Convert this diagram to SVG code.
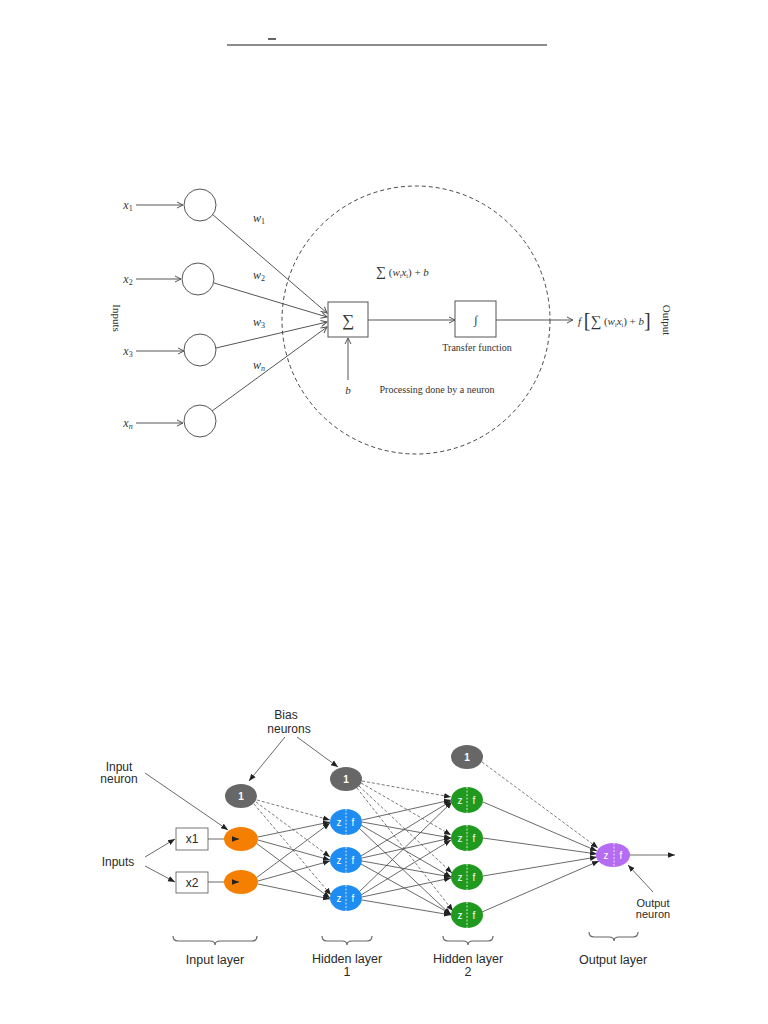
<svg xmlns="http://www.w3.org/2000/svg" width="768" height="1024" viewBox="0 0 768 1024">
<style>
.serif{font-family:"Liberation Serif","DejaVu Serif",serif;fill:#333}
.it{font-style:italic}
.sans{font-family:"Liberation Sans",Arial,sans-serif;fill:#2a2a2a}
.tl{stroke:#555;stroke-width:1;fill:none}
.cn{stroke:#444;stroke-width:0.8;fill:none}
.dash{stroke:#555;stroke-width:0.8;fill:none;stroke-dasharray:3,2}
.zf{font-family:"Liberation Sans",Arial,sans-serif;fill:#fff;font-size:10px;text-anchor:middle}
.sep{stroke:#fff;stroke-width:0.8;stroke-dasharray:2,1.5}
.brace{stroke:#666;stroke-width:1.2;fill:none}
</style>
<defs>
<marker id="oa" markerWidth="8" markerHeight="8" refX="7" refY="4" orient="auto" markerUnits="userSpaceOnUse">
<path d="M1,1 L7,4 L1,7" fill="none" stroke="#555" stroke-width="1"/>
</marker>
<marker id="fa" markerWidth="8" markerHeight="8" refX="7" refY="4" orient="auto" markerUnits="userSpaceOnUse">
<path d="M0,1.2 L7,4 L0,6.8 Z" fill="#222"/>
</marker>
</defs>
<rect width="768" height="1024" fill="#fff"/>

<!-- header line -->
<g id="header">
<line x1="227" y1="45" x2="547" y2="45" stroke="#666" stroke-width="1.5"/>
<line x1="268" y1="39" x2="276" y2="39" stroke="#333" stroke-width="1.5"/>
</g>

<!-- ===== Top diagram ===== -->
<g id="top-connectors">
<line class="tl" x1="136" y1="205" x2="183" y2="205" marker-end="url(#oa)"/>
<line class="tl" x1="136" y1="279" x2="181" y2="279" marker-end="url(#oa)"/>
<line class="tl" x1="136" y1="351" x2="184" y2="351" marker-end="url(#oa)"/>
<line class="tl" x1="136" y1="423" x2="183" y2="423" marker-end="url(#oa)"/>
<line class="tl" x1="212" y1="214" x2="327" y2="313" marker-end="url(#oa)"/>
<line class="tl" x1="214" y1="283" x2="327" y2="317" marker-end="url(#oa)"/>
<line class="tl" x1="216" y1="348" x2="327" y2="322" marker-end="url(#oa)"/>
<line class="tl" x1="212" y1="411" x2="327" y2="327" marker-end="url(#oa)"/>
<line class="tl" x1="348" y1="380" x2="348" y2="338" marker-end="url(#oa)"/>
<line class="tl" x1="368" y1="320" x2="455" y2="320" marker-end="url(#oa)"/>
<line class="tl" x1="496" y1="320" x2="573" y2="320" marker-end="url(#oa)"/>
</g>
<g id="neuron-boundary">
<circle cx="416" cy="320" r="134" fill="none" stroke="#444" stroke-width="1" stroke-dasharray="4,3"/>
</g>
<g id="in1"><circle cx="200" cy="205" r="16" fill="#fff" stroke="#555"/><text class="serif it" x="128" y="209" font-size="12" text-anchor="middle">x<tspan font-size="8" dy="2" font-style="normal">1</tspan></text></g>
<g id="in2"><circle cx="198" cy="279" r="16" fill="#fff" stroke="#555"/><text class="serif it" x="128" y="283" font-size="12" text-anchor="middle">x<tspan font-size="8" dy="2" font-style="normal">2</tspan></text></g>
<g id="in3"><circle cx="200" cy="350" r="16" fill="#fff" stroke="#555"/><text class="serif it" x="128" y="355" font-size="12" text-anchor="middle">x<tspan font-size="8" dy="2" font-style="normal">3</tspan></text></g>
<g id="inn"><circle cx="200" cy="421" r="16" fill="#fff" stroke="#555"/><text class="serif it" x="128" y="427" font-size="12" text-anchor="middle">x<tspan font-size="8" dy="2">n</tspan></text></g>
<g id="weights">
<text class="serif it" x="253" y="222" font-size="12">w<tspan font-size="8" dy="2" font-style="normal">1</tspan></text>
<text class="serif it" x="253" y="279" font-size="12">w<tspan font-size="8" dy="2" font-style="normal">2</tspan></text>
<text class="serif it" x="253" y="326" font-size="12">w<tspan font-size="8" dy="2" font-style="normal">3</tspan></text>
<text class="serif it" x="253" y="369" font-size="12">w<tspan font-size="8" dy="2">n</tspan></text>
</g>
<g id="inputs-label"><text class="serif" x="113" y="318" font-size="11" text-anchor="middle" transform="rotate(90 113 318)">Inputs</text></g>
<g id="sum">
<rect x="328" y="302" width="40" height="35" fill="#fff" stroke="#555"/>
<text class="serif" x="348" y="326" font-size="17" text-anchor="middle">∑</text>
</g>
<g id="bias"><text class="serif it" x="348" y="394" font-size="11" text-anchor="middle">b</text></g>
<g id="sum-label"><text class="serif" x="376" y="276" font-size="11"><tspan font-size="14">∑</tspan> (<tspan font-style="italic">w</tspan><tspan font-size="6" dy="2">i</tspan><tspan font-style="italic" dy="-2">x</tspan><tspan font-size="6" dy="2">i</tspan><tspan dy="-2">) + </tspan><tspan font-style="italic">b</tspan></text></g>
<g id="transfer">
<rect x="455" y="301" width="41" height="36" fill="#fff" stroke="#555"/>
<text class="serif it" x="476" y="324" font-size="12" text-anchor="middle">∫</text>
<text class="serif" x="477" y="351" font-size="10" text-anchor="middle">Transfer function</text>
</g>
<g id="processing"><text class="serif" x="437" y="393" font-size="10" text-anchor="middle">Processing done by a neuron</text></g>
<g id="output-formula">
<text class="serif" x="578" y="325" font-size="11"><tspan font-style="italic">f</tspan> <tspan font-size="20" dy="2">[</tspan><tspan font-size="15" dy="-1">∑</tspan><tspan dy="-1"> (</tspan><tspan font-style="italic">w</tspan><tspan font-size="6" dy="2">i</tspan><tspan font-style="italic" dy="-2">x</tspan><tspan font-size="6" dy="2">i</tspan><tspan dy="-2">) + </tspan><tspan font-style="italic">b</tspan><tspan font-size="20" dy="2">]</tspan></text>
<text class="serif" x="663" y="320" font-size="11" text-anchor="middle" transform="rotate(90 663 320)">Output</text>
</g>

<!-- ===== Bottom diagram ===== -->
<g id="bottom-connectors">
<line class="cn" x1="285" y1="737" x2="249" y2="781" marker-end="url(#fa)"/>
<line class="cn" x1="297" y1="737" x2="338" y2="767" marker-end="url(#fa)"/>
<line class="cn" x1="145" y1="773" x2="228" y2="830" marker-end="url(#fa)"/>
<line class="cn" x1="145" y1="857" x2="175" y2="839" marker-end="url(#fa)"/>
<line class="cn" x1="145" y1="866" x2="175" y2="882" marker-end="url(#fa)"/>
<line class="cn" x1="208" y1="839" x2="239" y2="839" marker-end="url(#fa)"/>
<line class="cn" x1="208" y1="882" x2="239" y2="882" marker-end="url(#fa)"/>
<line class="cn" x1="653" y1="892" x2="628" y2="865" marker-end="url(#fa)"/>
<line class="cn" x1="630" y1="855" x2="675" y2="855" marker-end="url(#fa)"/>
<line class="cn" x1="258" y1="837" x2="330" y2="822" marker-end="url(#fa)"/>
<line class="cn" x1="258" y1="840" x2="330" y2="860" marker-end="url(#fa)"/>
<line class="cn" x1="256" y1="843" x2="330" y2="898" marker-end="url(#fa)"/>
<line class="cn" x1="256" y1="878" x2="330" y2="823" marker-end="url(#fa)"/>
<line class="cn" x1="258" y1="881" x2="330" y2="861" marker-end="url(#fa)"/>
<line class="cn" x1="258" y1="884" x2="330" y2="899" marker-end="url(#fa)"/>
<line class="dash" x1="257" y1="800" x2="330" y2="820" marker-end="url(#fa)"/>
<line class="dash" x1="256" y1="802" x2="330" y2="857" marker-end="url(#fa)"/>
<line class="dash" x1="254" y1="804" x2="331" y2="895" marker-end="url(#fa)"/>
<line class="cn" x1="362" y1="820" x2="451" y2="800" marker-end="url(#fa)"/>
<line class="cn" x1="362" y1="822" x2="451" y2="838" marker-end="url(#fa)"/>
<line class="cn" x1="361" y1="825" x2="451" y2="877" marker-end="url(#fa)"/>
<line class="cn" x1="359" y1="828" x2="451" y2="915" marker-end="url(#fa)"/>
<line class="cn" x1="361" y1="856" x2="451" y2="801" marker-end="url(#fa)"/>
<line class="cn" x1="362" y1="858" x2="451" y2="838" marker-end="url(#fa)"/>
<line class="cn" x1="362" y1="861" x2="451" y2="877" marker-end="url(#fa)"/>
<line class="cn" x1="361" y1="864" x2="451" y2="914" marker-end="url(#fa)"/>
<line class="cn" x1="359" y1="892" x2="452" y2="802" marker-end="url(#fa)"/>
<line class="cn" x1="361" y1="895" x2="451" y2="840" marker-end="url(#fa)"/>
<line class="cn" x1="362" y1="897" x2="451" y2="878" marker-end="url(#fa)"/>
<line class="cn" x1="362" y1="900" x2="451" y2="915" marker-end="url(#fa)"/>
<line class="dash" x1="362" y1="781" x2="451" y2="797" marker-end="url(#fa)"/>
<line class="dash" x1="361" y1="783" x2="451" y2="835" marker-end="url(#fa)"/>
<line class="dash" x1="359" y1="786" x2="452" y2="873" marker-end="url(#fa)"/>
<line class="dash" x1="357" y1="788" x2="453" y2="911" marker-end="url(#fa)"/>
<line class="cn" x1="483" y1="802" x2="597" y2="851" marker-end="url(#fa)"/>
<line class="cn" x1="483" y1="838" x2="597" y2="854" marker-end="url(#fa)"/>
<line class="cn" x1="483" y1="876" x2="597" y2="857" marker-end="url(#fa)"/>
<line class="cn" x1="482" y1="912" x2="599" y2="861" marker-end="url(#fa)"/>
<line class="dash" x1="482" y1="762" x2="598" y2="848" marker-end="url(#fa)"/>
</g>

<g id="labels-bottom">
<text class="sans" x="286" y="719" font-size="12" text-anchor="middle">Bias</text>
<text class="sans" x="289" y="733" font-size="12" text-anchor="middle">neurons</text>
<text class="sans" x="119" y="771" font-size="12" text-anchor="middle">Input</text>
<text class="sans" x="119" y="783" font-size="12" text-anchor="middle">neuron</text>
<text class="sans" x="118" y="866" font-size="12" text-anchor="middle">Inputs</text>
<text class="sans" x="653" y="907" font-size="11" text-anchor="middle">Output</text>
<text class="sans" x="653" y="918" font-size="11" text-anchor="middle">neuron</text>
</g>

<g id="x1box"><rect x="176" y="828" width="32" height="22" fill="#fff" stroke="#555" stroke-width="0.8"/><text class="sans" x="192" y="843" font-size="12" text-anchor="middle">x1</text></g>
<g id="x2box"><rect x="176" y="872" width="32" height="21" fill="#fff" stroke="#555" stroke-width="0.8"/><text class="sans" x="192" y="887" font-size="12" text-anchor="middle">x2</text></g>

<g id="bias1"><ellipse cx="241" cy="796" rx="16" ry="12" fill="#676767"/><text class="zf" x="241" y="800" font-size="11" font-weight="bold">1</text></g>
<g id="bias2"><ellipse cx="346" cy="779" rx="16" ry="12" fill="#676767"/><text class="zf" x="346" y="783" font-size="11" font-weight="bold">1</text></g>
<g id="bias3"><ellipse cx="467" cy="757" rx="16" ry="12" fill="#676767"/><text class="zf" x="467" y="761" font-size="11" font-weight="bold">1</text></g>

<g id="in-neuron1"><ellipse cx="241" cy="839" rx="17" ry="12" fill="#F57F00"/><line x1="232" y1="839" x2="239" y2="839" stroke="#222" stroke-width="0.8" marker-end="url(#fa)"/></g>
<g id="in-neuron2"><ellipse cx="241" cy="882" rx="17" ry="12" fill="#F57F00"/><line x1="232" y1="882" x2="239" y2="882" stroke="#222" stroke-width="0.8" marker-end="url(#fa)"/></g>

<g id="h1a"><ellipse cx="346" cy="822" rx="16" ry="13" fill="#1E8CF0"/><line class="sep" x1="346" y1="809" x2="346" y2="835"/><text class="zf" x="339" y="826">z</text><text class="zf" x="353" y="826">f</text></g>
<g id="h1b"><ellipse cx="346" cy="860" rx="16" ry="13" fill="#1E8CF0"/><line class="sep" x1="346" y1="847" x2="346" y2="873"/><text class="zf" x="339" y="864">z</text><text class="zf" x="353" y="864">f</text></g>
<g id="h1c"><ellipse cx="346" cy="898" rx="16" ry="13" fill="#1E8CF0"/><line class="sep" x1="346" y1="885" x2="346" y2="911"/><text class="zf" x="339" y="902">z</text><text class="zf" x="353" y="902">f</text></g>

<g id="h2a"><ellipse cx="467" cy="800" rx="16" ry="13" fill="#1F9A1F"/><line class="sep" x1="467" y1="787" x2="467" y2="813"/><text class="zf" x="460" y="804">z</text><text class="zf" x="474" y="804">f</text></g>
<g id="h2b"><ellipse cx="467" cy="838" rx="16" ry="13" fill="#1F9A1F"/><line class="sep" x1="467" y1="825" x2="467" y2="851"/><text class="zf" x="460" y="842">z</text><text class="zf" x="474" y="842">f</text></g>
<g id="h2c"><ellipse cx="467" cy="877" rx="16" ry="13" fill="#1F9A1F"/><line class="sep" x1="467" y1="864" x2="467" y2="890"/><text class="zf" x="460" y="881">z</text><text class="zf" x="474" y="881">f</text></g>
<g id="h2d"><ellipse cx="467" cy="915" rx="16" ry="13" fill="#1F9A1F"/><line class="sep" x1="467" y1="902" x2="467" y2="928"/><text class="zf" x="460" y="919">z</text><text class="zf" x="474" y="919">f</text></g>

<g id="out-neuron"><ellipse cx="613" cy="855" rx="17" ry="12" fill="#B56CF2"/><line class="sep" x1="614" y1="843" x2="614" y2="867"/><text class="zf" x="606" y="859">z</text><text class="zf" x="621" y="859">f</text></g>

<g id="layer-braces">
<path class="brace" d="M173,936 q0,5 5,5 h32 q5,0 5,4 q0,-4 5,-4 h32 q5,0 5,-5"/>
<path class="brace" d="M322,936 q0,5 5,5 h15 q5,0 5,4 q0,-4 5,-4 h15 q5,0 5,-5"/>
<path class="brace" d="M443,936 q0,5 5,5 h15 q5,0 5,4 q0,-4 5,-4 h15 q5,0 5,-5"/>
<path class="brace" d="M589,932 q0,5 5,5 h15 q5,0 5,4 q0,-4 5,-4 h14 q5,0 5,-5"/>
</g>
<g id="layer-labels">
<text class="sans" x="215" y="964" font-size="12.5" text-anchor="middle">Input layer</text>
<text class="sans" x="347" y="963" font-size="12.5" text-anchor="middle">Hidden layer</text>
<text class="sans" x="347" y="976" font-size="12.5" text-anchor="middle">1</text>
<text class="sans" x="468" y="963" font-size="12.5" text-anchor="middle">Hidden layer</text>
<text class="sans" x="468" y="976" font-size="12.5" text-anchor="middle">2</text>
<text class="sans" x="613" y="964" font-size="12.5" text-anchor="middle">Output layer</text>
</g>
</svg>
